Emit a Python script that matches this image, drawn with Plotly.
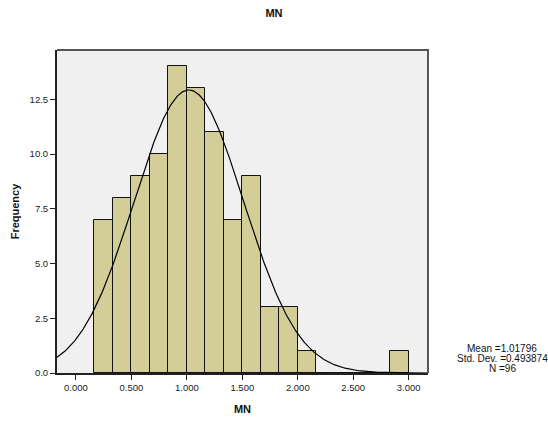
import numpy as np
import plotly.graph_objects as go

# Histogram of MN: bins of width 1/6 starting at 1/6
bin_start = 1 / 6
bin_width = 1 / 6
counts = [7, 8, 9, 10, 14, 13, 11, 7, 9, 3, 3, 1, 0, 0, 0, 0, 1]

# Summary statistics shown beside the chart
mean_val = 1.01796
std_val = 0.493874
n_val = 96

x_ticks = [0.0, 0.5, 1.0, 1.5, 2.0, 2.5, 3.0]
x_tick_text = ["0.000", "0.500", "1.000", "1.500", "2.000", "2.500", "3.000"]
y_ticks = [0.0, 2.5, 5.0, 7.5, 10.0, 12.5]
y_tick_text = ["0.0", "2.5", "5.0", "7.5", "10.0", "12.5"]

x_range = [-0.171, 3.174]
y_range = [0, 14.75]

centers = [bin_start + (i + 0.5) * bin_width for i in range(len(counts))]

# Fitted normal curve scaled to counts per bin
xs = np.linspace(x_range[0], x_range[1], 400)
ys = n_val * bin_width / (std_val * np.sqrt(2 * np.pi)) * np.exp(-0.5 * ((xs - mean_val) / std_val) ** 2)

font_family = "Liberation Sans, Arial, sans-serif"

fig = go.Figure()
fig.add_trace(go.Bar(
    x=centers, y=counts, width=bin_width,
    marker=dict(color="#D3CE97", line=dict(color="#111111", width=1)),
    hoverinfo="skip",
))
fig.add_trace(go.Scatter(
    x=xs, y=ys, mode="lines",
    line=dict(color="#000000", width=1.2),
    hoverinfo="skip",
))

fig.update_layout(
    width=548, height=423,
    margin=dict(l=57, r=120, t=50, b=50),
    paper_bgcolor="white",
    plot_bgcolor="#F0F0F0",
    showlegend=False,
    bargap=0,
    font=dict(family=font_family, color="#222222", size=10),
    title=dict(text="<b>MN</b>", x=274 / 548, xanchor="center", y=1 - 13 / 423, yanchor="middle",
               font=dict(size=11, color="#111111")),
    xaxis=dict(
        range=x_range, tickvals=x_ticks, ticktext=x_tick_text,
        showgrid=False, zeroline=False, automargin=False,
        showline=True, linecolor="#222222", linewidth=2,
        ticks="outside", ticklen=5, tickcolor="#222222", tickwidth=1,
        tickfont=dict(size=9.5),
        title=dict(text="<b>MN</b>", font=dict(size=11, color="#111111"), standoff=13),
    ),
    yaxis=dict(
        range=y_range, tickvals=y_ticks, ticktext=y_tick_text,
        showgrid=False, zeroline=False, automargin=False,
        showline=True, linecolor="#222222", linewidth=2,
        ticks="outside", ticklen=5, tickcolor="#222222", tickwidth=1,
        tickfont=dict(size=9.5),
        title=dict(text="<b>Frequency</b>", font=dict(size=11, color="#111111"), standoff=8),
    ),
)

# Darker-grey top and right edges of the plot frame
fig.add_shape(type="path", xref="paper", yref="paper",
              path="M 0,1 L 1,1 L 1,0", line=dict(color="#555555", width=2), layer="above")

stats_lines = [f"Mean ={mean_val}", f"Std. Dev. ={std_val}", f"N ={n_val}"]
stats_y_px = [348, 358, 368]
for text, ypx in zip(stats_lines, stats_y_px):
    fig.add_annotation(
        text=text, xref="paper", yref="paper",
        x=(502 - 57) / (428 - 57), y=(373 - ypx) / (373 - 50),
        xanchor="center", yanchor="middle", showarrow=False,
        font=dict(size=10, color="#111111"),
    )

fig.write_html("out.html")
